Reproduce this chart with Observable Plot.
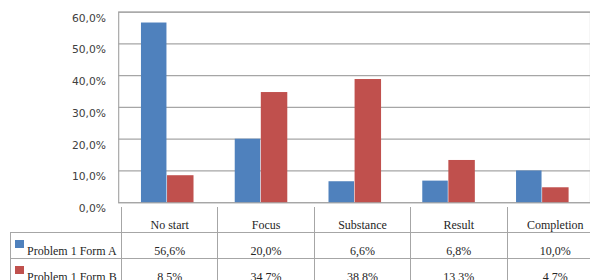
<!DOCTYPE html>
<html>
<head>
<meta charset="utf-8">
<script src="https://cdn.jsdelivr.net/npm/d3@7"></script>
<script src="https://cdn.jsdelivr.net/npm/@observablehq/plot@0.6"></script>
<style>
  html, body { margin: 0; padding: 0; background: #fff; overflow: hidden; }
  #wrap { position: relative; width: 590px; height: 280px; overflow: hidden; }
  #wrap svg { position: absolute; left: 0; top: 0; }
  table.dt {
    position: absolute; left: 10px; top: 207px;
    border-collapse: collapse; table-layout: fixed; width: 593px;
    color: #262626;
  }
  table.dt td {
    font-family: "Liberation Serif", "Tinos", "Times New Roman", "DejaVu Serif", serif;
    font-size: 12px;
    height: 25px; padding: 0; line-height: 14px; vertical-align: bottom;
    text-align: center; border: 1px solid #a6a6a6; white-space: nowrap; overflow: hidden;
  }
  table.dt tr.head td { border-top: none; }
  table.dt td.rowlab { text-align: left; padding-left: 4px; }
  .key { display: inline-block; width: 9px; height: 8px; vertical-align: 7px; margin-right: 3px; }
</style>
</head>
<body>
<div id="wrap"></div>
<script>
const categories = ["No start", "Focus", "Substance", "Result", "Completion"];
const seriesNames = ["Problem 1 Form A", "Problem 1 Form B"];
const formA = [56.6, 20.0, 6.6, 6.8, 10.0];
const formB = [8.5, 34.7, 38.8, 13.3, 4.7];
const yTicks = [0, 10, 20, 30, 40, 50, 60];
const colors = ["#4F81BD", "#C0504D"];

const fmt = v => v.toFixed(1).replace(".", ",") + "%";
const dataA = categories.map((c, i) => ({category: c, series: seriesNames[0], value: formA[i]}));
const dataB = categories.map((c, i) => ({category: c, series: seriesNames[1], value: formB[i]}));

const chart = Plot.plot({
  width: 604,
  height: 280,
  marginLeft: 121,
  marginRight: 0,
  marginTop: 12,
  marginBottom: 73,
  style: {fontFamily: "DejaVu Sans, sans-serif", fontSize: "11px", background: "transparent"},
  x: {domain: categories, padding: 0, axis: null},
  y: {domain: [0, 60], axis: null},
  color: {domain: seriesNames, range: colors},
  marks: [
    Plot.ruleY(yTicks, {stroke: "#a6a6a6", strokeWidth: 1.2}),
    Plot.frame({stroke: "#a6a6a6", strokeWidth: 1.2}),
    Plot.barY(dataA, {x: "category", y: "value", fill: "series", insetLeft: 21.3, insetRight: 48.6}),
    Plot.barY(dataB, {x: "category", y: "value", fill: "series", insetLeft: 48, insetRight: 20.9}),
    Plot.axisY(yTicks, {tickSize: 0, tickPadding: 13, dy: 6, tickFormat: fmt, label: null, fill: "#404040"})
  ]
});
document.getElementById("wrap").appendChild(chart);

// data table below the chart
const table = document.createElement("table");
table.className = "dt";
const colg = document.createElement("colgroup");
[111, 96.4, 96.4, 96.4, 96.4, 96.4].forEach(w => {
  const c = document.createElement("col"); c.style.width = w + "px"; colg.appendChild(c);
});
table.appendChild(colg);
const tbody = document.createElement("tbody");
const head = document.createElement("tr");
head.className = "head";
const corner = document.createElement("td");
corner.style.borderBottom = "none";
corner.style.borderLeft = "none";
head.appendChild(corner);
categories.forEach(c => { const td = document.createElement("td"); td.textContent = c; head.appendChild(td); });
tbody.appendChild(head);
[formA, formB].forEach((vals, s) => {
  const tr = document.createElement("tr");
  const lab = document.createElement("td");
  lab.className = "rowlab";
  const key = document.createElement("span");
  key.className = "key";
  key.style.background = colors[s];
  lab.appendChild(key);
  lab.appendChild(document.createTextNode(seriesNames[s]));
  tr.appendChild(lab);
  vals.forEach(v => { const td = document.createElement("td"); td.textContent = fmt(v); tr.appendChild(td); });
  tbody.appendChild(tr);
});
table.appendChild(tbody);
document.getElementById("wrap").appendChild(table);
</script>
</body>
</html>
